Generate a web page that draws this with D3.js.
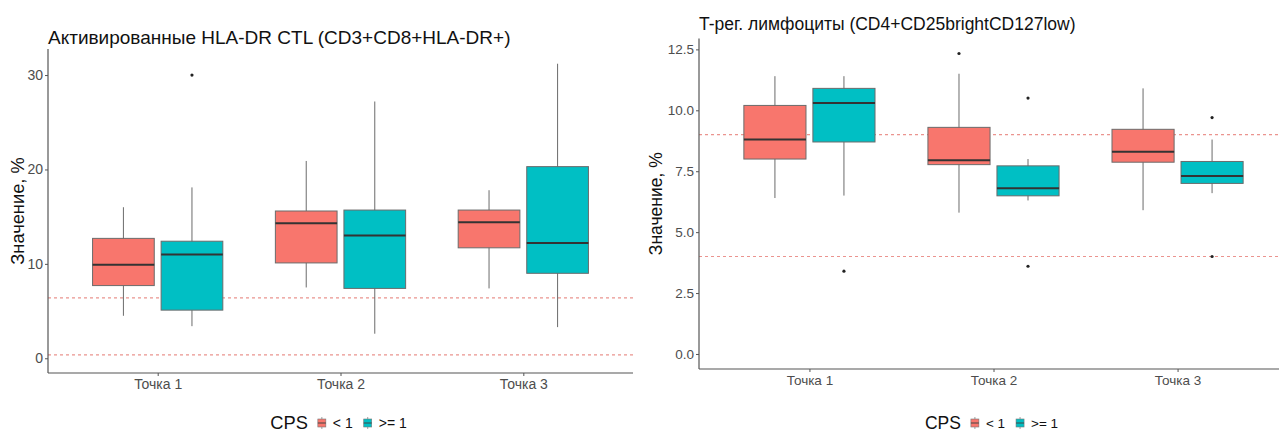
<!DOCTYPE html>
<html>
<head>
<meta charset="utf-8">
<script src="https://cdn.jsdelivr.net/npm/d3@7"></script>
<style>
  body { margin: 0; background: #fff; }
  svg { display: block; font-family: "Liberation Sans", Arial, sans-serif; }
</style>
</head>
<body>
<svg id="chart" width="1279" height="434"></svg>
<script>
// categories and groups
const categories = ["Точка 1", "Точка 2", "Точка 3"];
const groups = ["< 1", ">= 1"];
const groupColors = ["#F8766D", "#00BFC4"];

// box stats per category: [lower whisker, q1, median, q3, upper whisker]
const ctlLow = [[4.5, 7.7, 9.9, 12.7, 16.0], [7.5, 10.1, 14.3, 15.6, 20.9], [7.4, 11.7, 14.4, 15.7, 17.8]];
const ctlHigh = [[3.4, 5.1, 11.0, 12.4, 18.1], [2.6, 7.4, 13.0, 15.7, 27.2], [3.3, 9.0, 12.2, 20.3, 31.2]];
const ctlOutliers = [[0, 1, 30.0]]; // [category, group, value]
const ctlRefLines = [0.35, 6.4];

const tregLow = [[6.4, 8.0, 8.8, 10.2, 11.4], [5.8, 7.77, 7.95, 9.3, 11.5], [5.9, 7.87, 8.3, 9.22, 10.9]];
const tregHigh = [[6.5, 8.7, 10.3, 10.9, 11.4], [6.3, 6.49, 6.8, 7.72, 8.0], [6.6, 7.0, 7.3, 7.9, 8.8]];
const tregOutliers = [[0, 1, 3.4], [1, 0, 12.33], [1, 1, 10.5], [1, 1, 3.6], [2, 1, 9.7], [2, 1, 4.0]];
const tregRefLines = [4.0, 9.0];

const ctlTicks = [0, 10, 20, 30];
const tregTicks = [0, 2.5, 5, 7.5, 10, 12.5];

const svg = d3.select("#chart");

function drawPanel(opts) {
  const { left, right, top, bottom, title, titleY, low, high, outliers, refLines, ticks, tickFmt, yTitleX, fs } = opts;
  const g = svg.append("g");

  // ggplot-like y domain: from 0 to max, 5% expansion
  const allVals = low.flat().concat(high.flat(), outliers.map(d => d[2]), refLines);
  const hi = d3.max(allVals);
  const pad = hi * 0.05;
  const y = d3.scaleLinear().domain([-pad, hi + pad]).range([bottom, top]);

  const x = d3.scalePoint().domain(categories).range([left, right]).padding(0.6);
  const step = x.step();
  const dodge = d3.scaleBand().domain(groups).range([-0.375 * step, 0.375 * step]).paddingInner(0.1).paddingOuter(0.05);

  // reference lines
  g.selectAll(".ref").data(refLines).enter().append("line")
    .attr("x1", left).attr("x2", right)
    .attr("y1", d => y(d)).attr("y2", d => y(d))
    .attr("stroke", "#E8827C").attr("stroke-width", 1.2)
    .attr("stroke-dasharray", "3,3").attr("opacity", 0.85);

  const boxes = [];
  categories.forEach((c, i) => {
    boxes.push({ cat: c, group: groups[0], s: low[i], color: groupColors[0] });
    boxes.push({ cat: c, group: groups[1], s: high[i], color: groupColors[1] });
  });

  const bw = dodge.bandwidth();
  const bx = d => x(d.cat) + dodge(d.group);

  // whiskers
  g.selectAll(".whisk").data(boxes).enter().append("line")
    .attr("x1", d => bx(d) + bw / 2).attr("x2", d => bx(d) + bw / 2)
    .attr("y1", d => y(d.s[0])).attr("y2", d => y(d.s[4]))
    .attr("stroke", "#6b6b6b").attr("stroke-width", 1);

  // boxes
  g.selectAll(".box").data(boxes).enter().append("rect")
    .attr("x", d => bx(d)).attr("width", bw)
    .attr("y", d => y(d.s[3])).attr("height", d => y(d.s[1]) - y(d.s[3]))
    .attr("fill", d => d.color)
    .attr("stroke", "#6b6b6b").attr("stroke-width", 1);

  // medians
  g.selectAll(".med").data(boxes).enter().append("line")
    .attr("x1", d => bx(d)).attr("x2", d => bx(d) + bw)
    .attr("y1", d => y(d.s[2])).attr("y2", d => y(d.s[2]))
    .attr("stroke", "#333").attr("stroke-width", 2);

  // outliers
  g.selectAll(".out").data(outliers).enter().append("circle")
    .attr("cx", d => x(categories[d[0]]) + dodge(groups[d[1]]) + bw / 2)
    .attr("cy", d => y(d[2]))
    .attr("r", 1.6).attr("fill", "#222");

  // axes
  const yAxis = g.append("g")
    .attr("transform", `translate(${left},0)`)
    .call(d3.axisLeft(y).tickValues(ticks).tickFormat(tickFmt).tickSize(3).tickPadding(2).tickSizeOuter(0));
  const xAxis = g.append("g")
    .attr("transform", `translate(0,${bottom})`)
    .call(d3.axisBottom(x).tickSize(3).tickPadding(3).tickSizeOuter(0));
  [yAxis, xAxis].forEach(a => {
    a.select(".domain").attr("stroke", "#555").attr("stroke-width", 1.2);
    a.selectAll(".tick line").attr("stroke", "#555");
    a.selectAll(".tick text").attr("fill", "#4D4D4D").style("font-size", fs.tick + "px")
      .style("font-family", "'Liberation Sans', Arial, sans-serif");
  });
  yAxis.select(".domain").attr("d", `M0,${top}V${bottom}`);
  xAxis.select(".domain").attr("d", `M${left},0H${right}`);

  // title
  g.append("text").attr("x", left).attr("y", titleY)
    .attr("fill", "#111").style("font-size", fs.title + "px").text(title);

  // y axis title
  g.append("text")
    .attr("transform", `translate(${yTitleX},${(top + bottom) / 2}) rotate(-90)`)
    .attr("text-anchor", "middle").attr("fill", "#111")
    .style("font-size", fs.axis + "px").text("Значение, %");

  // legend
  const lg = g.append("g");
  const cps = lg.append("text").attr("y", 0).style("font-size", fs.axis + "px").attr("fill", "#111").text("CPS");
  let cx = cps.node().getComputedTextLength() + 10;
  groups.forEach((gr, i) => {
    const key = lg.append("g").attr("transform", `translate(${cx},-10)`);
    key.append("line").attr("x1", 4).attr("x2", 4).attr("y1", -2).attr("y2", 10)
      .attr("stroke", "#888").attr("stroke-width", 0.8);
    key.append("rect").attr("x", 0).attr("y", 0).attr("width", 8).attr("height", 8)
      .attr("fill", groupColors[i]).attr("stroke", "#777").attr("stroke-width", 0.6);
    key.append("line").attr("x1", 0).attr("x2", 8).attr("y1", 4).attr("y2", 4)
      .attr("stroke", "#444").attr("stroke-width", 1);
    cx += 15;
    const t = lg.append("text").attr("x", cx).attr("y", -1).style("font-size", fs.tick + "px").attr("fill", "#111").text(gr);
    cx += t.node().getComputedTextLength() + 11;
  });
  const lw = cx - 11;
  lg.attr("transform", `translate(${(left + right) / 2 - lw / 2 - 2},${opts.legendY})`);
}

drawPanel({
  left: 48, right: 633, top: 49, bottom: 373,
  title: "Активированные HLA-DR CTL (CD3+CD8+HLA-DR+)", titleY: 44,
  low: ctlLow, high: ctlHigh, outliers: ctlOutliers, refLines: ctlRefLines,
  ticks: ctlTicks, tickFmt: d3.format("d"), yTitleX: 24, legendY: 429,
  fs: { title: 19, axis: 18.3, tick: 14 }
});

drawPanel({
  left: 699, right: 1288, top: 38.5, bottom: 369,
  title: "T-рег. лимфоциты (CD4+CD25brightCD127low)", titleY: 30,
  low: tregLow, high: tregHigh, outliers: tregOutliers, refLines: tregRefLines,
  ticks: tregTicks, tickFmt: d3.format(".1f"), yTitleX: 662, legendY: 429,
  fs: { title: 17.5, axis: 17.5, tick: 13.5 }
});
</script>
</body>
</html>
